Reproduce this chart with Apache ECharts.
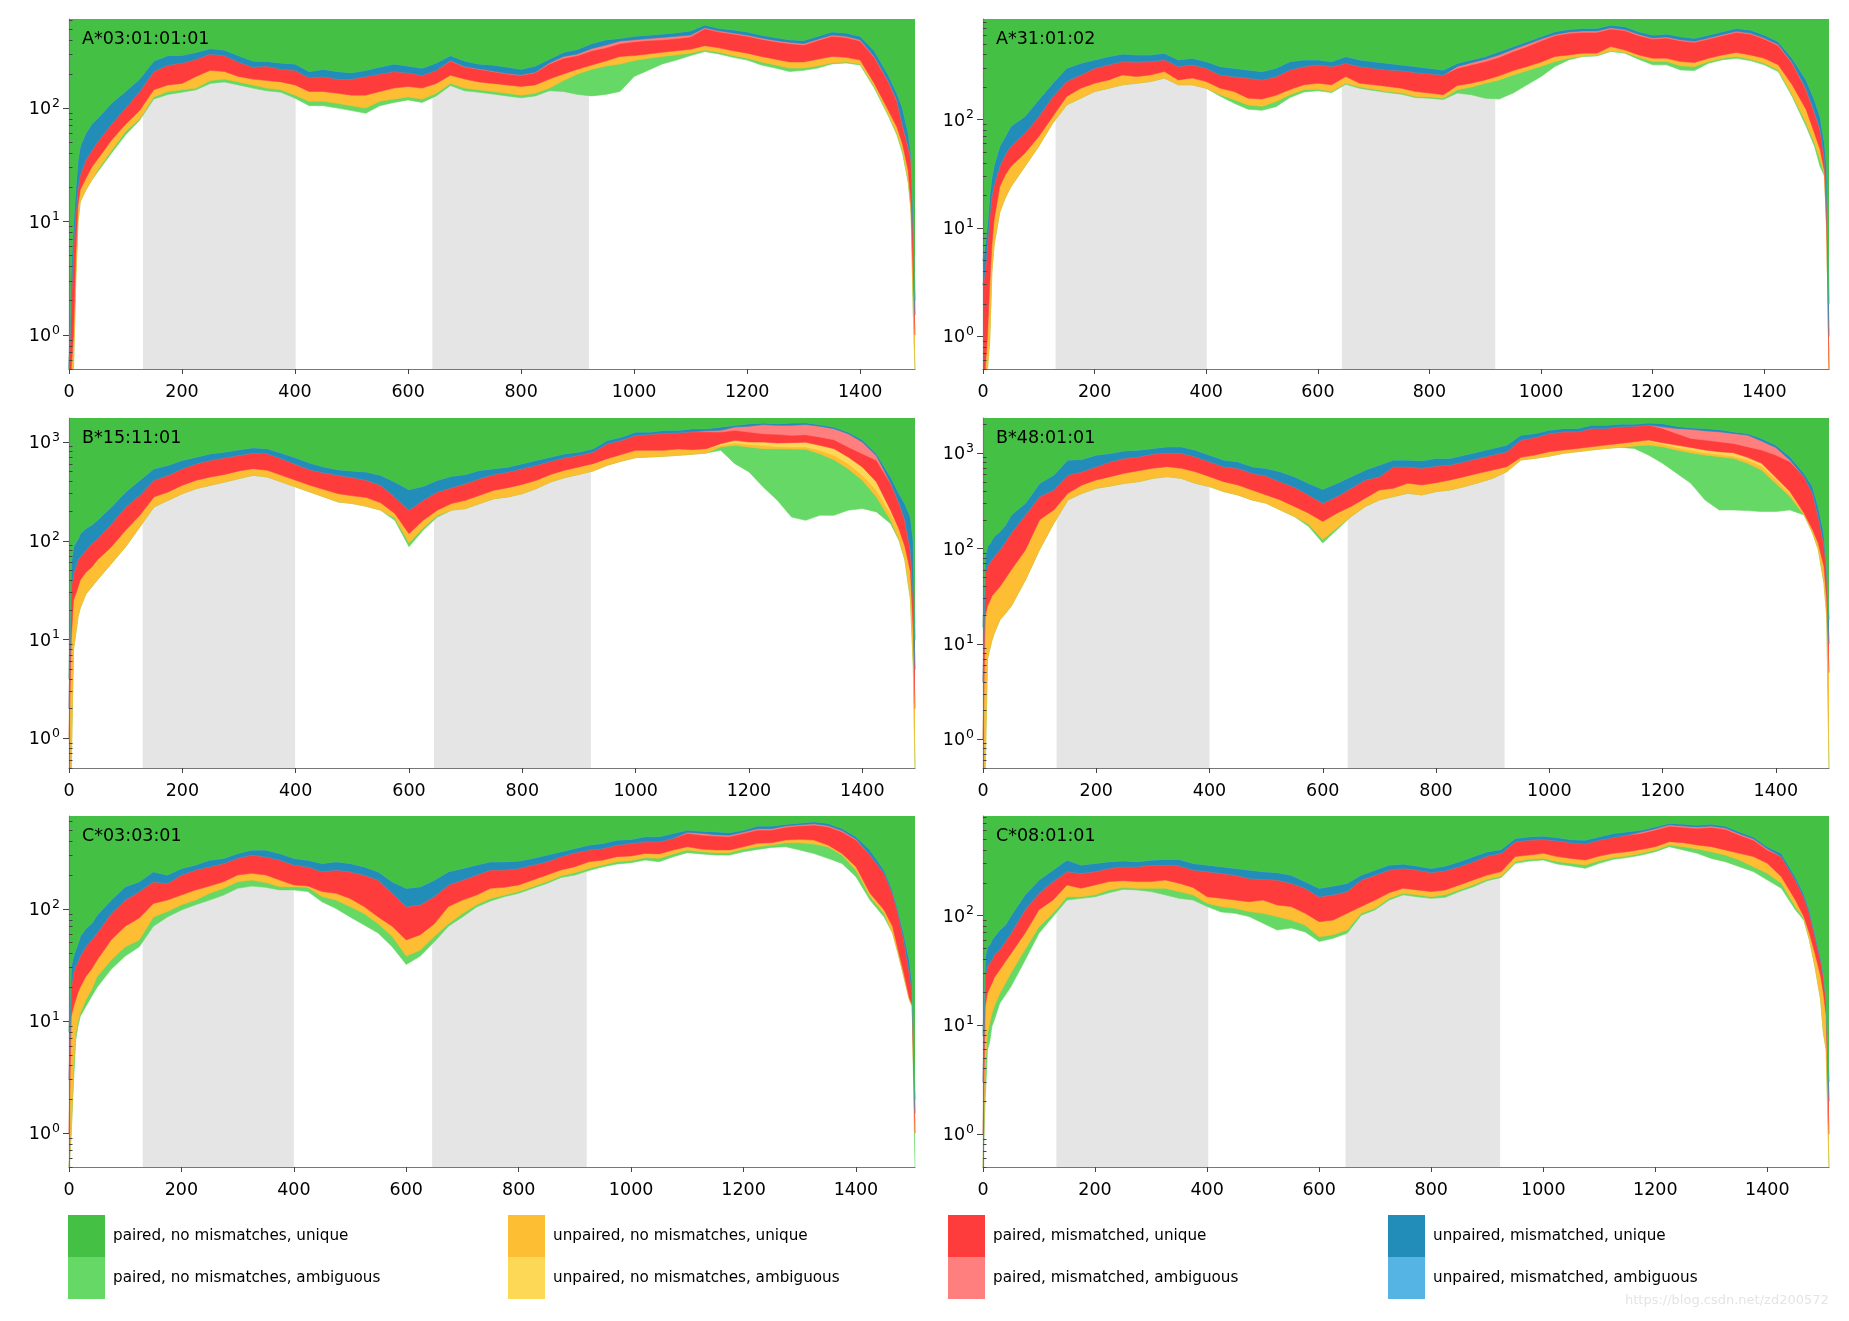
<!DOCTYPE html>
<html><head><meta charset="utf-8">
<script src="https://cdn.jsdelivr.net/npm/echarts@6/dist/echarts.min.js"></script>
<style>html,body{margin:0;padding:0;background:#fff}#c{width:1849px;height:1321px}</style>
</head><body><div id="c"></div>
<script>
const _ = null;
// sampling positions (common to all panels), each panel adds its own tail
const POS = [0,4,8,12,16,20,30,40,50,75,100,125,150,175,200,225,250,275,300,325,350,375,400,425,450,475,500,525,550,575,600,625,650,675,700,725,750,775,800,825,850,875,900,925,950,975,1000,1025,1050,1075,1100,1125,1150,1175,1200,1225,1250,1275,1300,1325,1350,1375,1400,1425,1450];
const X_TICKS = [0,200,400,600,800,1000,1200,1400];
const Y_MAJOR = [1,10,100,1000];
const Y_MINOR = [0.5,0.6,0.7,0.8,0.9,2,3,4,5,6,7,8,9,20,30,40,50,60,70,80,90,200,300,400,500,600,700,800,900,2000];

// Layer boundary arrays (top edge of each layer, reads/bp)
// base = bottom edge of the coloured stack
// ---- A*03:01:01:01
const A03_tail = [1465,1475,1485,1490,1494,1497];
const A03_base = [.5,.5,.5,3,10,15,19,23,27, 40,58,78,120,132,138,145,165,170,160, 150,142,138,122,105,105,100,95,90,105, 112,118,112,128,158,142,138,133,128,123, 128,142,140,132,128,132,140,190,215,245, 265,290,315,300,280,265,240,225,210,215, 225,245,250,240,150,85, 58,40,22,12,1.5,.5];
const A03_g = [_,_,_,_,_,_,_,_,28, 42,62,80,125,140,145,150,175,180,170, 160,150,145,130,115,115,110,105,100,115, 120,125,120,135,165,150,145,140,135,130, 135,150,175,200,220,235,245,262,275,285, 295,305,325,310,290,275,255,240,225,225, 235,250,255,245,155,87, 60,42,23,13,1.6,.5];
const A03_y = [.5,.5,1,5,14,19,24,30,35, 52,72,95,145,160,165,190,215,210,190, 180,175,170,160,140,140,135,130,130,140, 150,155,150,165,195,180,170,165,160,155, 160,180,200,220,240,260,285,290,300,310, 320,330,355,340,320,305,285,270,255,255, 270,285,280,265,165,95, 68,48,28,14,3,1];
const A03_r = [.5,2,6,12,20,26,35,42,50, 72,100,140,210,240,250,270,300,290,255, 230,235,220,215,185,190,180,180,190,200, 210,205,195,215,260,230,220,210,200,195, 205,245,275,290,320,340,370,385,395,400, 410,425,500,470,450,430,405,385,370,360, 395,430,420,390,280,170, 115,70,45,35,7,1.5];
const A03_p = [_,_,_,_,_,_,_,_,_, _,_,_,_,_,_,_,_,_,_, _,_,_,_,_,_,_,_,_,_, _,_,_,_,262,232,222,212,202,197, 207,250,285,300,335,360,390,400,410,420, 430,440,510,480,460,440,415,395,380,370, 405,440,430,400,285,172, 117,71,46,36,7,1.5];
const A03_b = [.5,4,10,20,35,46,60,72,80, 110,140,180,260,290,292,310,335,325,290, 260,258,250,245,210,220,210,205,215,230, 245,235,225,250,290,260,245,240,230,220, 235,270,310,330,370,400,412,430,440,450, 462,480,541,505,490,470,440,420,400,395, 430,470,460,430,320,195, 135,100,60,40,12,2];
const A03_exons = [[131,401],[643,920]];

// ---- A*31:01:02
const A31_tail = [1475,1490,1500,1508,1512,1516];
const A31_base = [.5,.5,.5,.9,4,7,14,19,24, 37,57,93,137,158,182,195,210,217,225, 242,210,210,195,165,142,125,122,132,160, 180,185,178,212,195,186,178,172,160,158, 154,176,170,158,155,176,210,250,310,357, 383,388,426,411,361,321,321,288,284,332, 357,369,351,321,278,164, 87,57,37,30,9,.5];
const A31_g = [_,_,_,_,_,_,_,_,_, _,_,_,_,_,_,_,_,_,_, _,_,_,_,170,153,137,133,147,170, 189,191,182,217,200,191,182,176,164,162, 158,189,200,217,233,259,284,312,344,369, 388,393,434,418,377,344,344,314,310,344, 369,383,361,332,288,170, 93,61,43,31,9,.5];
const A31_y = [.5,.5,1,3,7,12,24,31,37, 49,70,107,164,195,217,233,259,250,259, 278,233,242,225,195,182,158,155,168,190, 210,217,210,250,217,210,203,195,182,176, 170,207,217,233,254,284,310,340,383,396, 411,411,473,441,396,369,369,344,337,369, 396,417,396,369,321,210, 124,75,53,33,10,.5];
const A31_r = [3,4,7,13,20,25,37,48,57, 75,107,164,225,259,299,321,344,340,344, 357,310,321,299,259,250,242,233,250,288, 310,321,310,332,310,299,288,284,273,265, 259,299,321,344,378,426,473,535,597,628, 640,640,688,665,597,556,568,535,518,556, 597,640,618,556,483,332, 189,115,81,43,18,1];
const A31_p = [_,_,_,_,_,_,_,_,_, _,_,_,_,_,_,_,_,_,_, _,_,_,_,_,_,_,_,_,_, _,_,_,_,_,_,_,_,_,_, _,310,336,361,397,446,497,555,613,645, 660,660,705,680,615,568,580,547,530,568, 610,655,630,568,495,338, 192,117,82,43,18,1];
const A31_b = [5,7,11,20,30,38,57,70,87, 107,153,217,299,332,357,383,405,397,397, 411,357,370,344,310,299,288,278,299,344, 357,357,344,383,357,344,332,321,310,299, 288,332,357,383,426,473,526,585,650,683, 698,698,748,723,650,605,618,585,565,605, 650,698,674,605,526,369, 233,153,107,61,37,2];
const A31_exons = [[130,401],[643,918]];

// ---- B*15:11:01
const B15_tail = [1465,1475,1485,1490,1493];
const B15_base = [.5,.5,8,11.5,17,21,29,34,40, 59,87,138,220,257,300,338,365,394,426, 460,443,394,351,312,278,247,238,223,204, 161,87,128,174,204,212,238,267,278,300, 338,394,436,470,510,581,640,694,705,716, 733,750,773,824,604,498,351,257,174,161, 181,181,204,212,196,149, 100,64,25,5.3,.5];
const B15_g = [_,_,_,_,_,_,_,_,_, _,_,_,_,_,_,_,_,_,_, _,_,_,_,_,_,_,_,_,_, 170,95,135,180,_,_,_,_,_,_, _,_,_,_,_,_,_,_,_,_, _,_,_,890,925,890,856,856,850,845, 762,662,537,410,278,161, 102,65,26,_,_];
const B15_y = [1,10,25,29,34,40,48,54,64, 87,128,181,278,312,365,410,443,470,510, 537,517,460,410,365,330,300,285,274,242, 189,118,161,204,238,257,289,325,345,372, 410,470,517,559,604,678,748,824,824,824, 850,837,856,925,977,947,925,900,890,890, 824,733,604,460,325,189, 128,87,47,11.5,2];
const B15_yl = [_,_,_,_,_,_,_,_,_, _,_,_,_,_,_,_,_,_,_, _,_,_,_,_,_,_,_,_,_, _,_,_,_,_,_,_,_,_,_, _,_,_,_,_,_,_,_,_,_, _,_,_,962,1039,1000,1000,977,985,995, 925,856,705,559,394,204, 130,88,48,_,_];
const B15_r = [2,34,47,54,64,69,80,94,104, 149,220,289,410,460,537,604,653,694,733, 773,762,678,595,525,488,460,436,410,365, 278,204,257,312,345,379,426,470,498,537, 581,640,694,733,792,962,1039,1168,1195,1225, 1240,1270,1270,1262,1313,1262,1214,1195,1168,1185, 1123,1054,890,762,653,379, 238,161,80,25,5];
const B15_p = [_,_,_,_,_,_,_,_,_, _,_,_,_,_,_,_,_,_,_, _,_,_,_,_,_,_,_,_,_, _,_,_,_,_,_,_,_,_,_, _,_,_,_,_,_,_,_,_,_, _,_,1300,1313,1419,1447,1500,1475,1475,1505, 1447,1365,1214,1000,724,385, 240,163,81,_,_];
const B15_b = [4,60,87,96,104,118,133,144,161, 220,312,410,537,581,653,705,762,792,837, 876,856,773,694,614,559,525,510,498,460, 394,330,356,410,450,470,517,537,559,604, 653,705,762,792,856,1039,1123,1262,1262,1313, 1313,1365,1365,1419,1475,1531,1560,1531,1560,1570, 1500,1419,1262,1055,762,443, 300,238,174,100,10];
const B15_exons = [[130,399],[644,921]];

// ---- B*48:01:01
const B48_tail = [1465,1475,1485,1490,1494];
const B48_base = [.5,.5,7,8.8,11,13,18,21,25, 47,98,185,325,381,430,455,485,505,547, 570,547,485,448,397,366,325,300,255,217, 171,115,158,217,277,325,352,381,366,397, 413,448,493,547,643,852,887,935,1000,1041, 1084,1128,1155,1128,961,786,618,485,325,255, 255,251,245,245,255,226, 146,98,44,19.5,.5];
const B48_g = [_,_,_,_,_,_,_,_,_, _,_,_,_,_,_,_,_,_,_, _,_,_,_,_,_,_,_,_,_, 180,125,165,_,_,_,_,_,_,_, _,_,_,_,_,_,_,_,_,_, _,_,_,1193,1222,1174,1084,1016,961,923, 887,786,669,485,352,_, _,_,_,_,_];
const B48_y = [1,19.5,25,28,32,34,40,49,60, 97,201,255,381,466,526,570,618,659,697, 725,697,643,570,505,466,413,366,325,277, 236,193,236,277,338,413,430,485,466,493, 526,570,618,669,725,908,961,1041,1084,1128, 1174,1222,1273,1325,1355,1253,1155,1084,1016,976, 938,852,737,534,381,236, 158,114,65,29,5];
const B48_yl = [_,_,_,_,_,_,_,_,_, _,_,_,_,_,_,_,_,_,_, _,_,_,_,_,_,_,_,_,_, _,_,_,_,_,_,_,_,_,_, _,_,_,_,_,_,_,_,_,_, _,_,_,_,1379,1295,1222,1155,1084,1041, 1016,908,786,560,397,_, _,_,_,_,_];
const B48_r = [4,55,65,71,77,83,97,119,146, 226,352,413,593,643,725,818,887,923,984, 1016,1000,923,818,725,697,618,580,505,441, 366,300,352,430,526,570,725,725,697,737, 755,818,887,961,1041,1379,1470,1619,1686,1686, 1827,1827,1900,1930,1979,1827,1619,1436,1379,1325, 1273,1174,1084,961,818,570, 381,217,114,55,10];
const B48_p = [_,_,_,_,_,_,_,_,_, _,_,_,_,_,_,_,_,_,_, _,_,_,_,_,_,_,_,_,_, _,_,_,_,_,_,_,_,_,_, _,_,_,_,_,_,_,_,_,_, _,_,_,_,_,1900,1827,1790,1727,1686, 1619,1556,1350,1155,852,_, _,_,_,_,_];
const B48_b = [15,83,106,112,124,134,151,178,226, 300,485,593,852,866,961,1000,1066,1084,1128, 1174,1174,1084,961,852,818,725,697,643,570, 485,420,485,570,669,755,852,852,838,887, 887,961,1041,1128,1222,1556,1619,1754,1827,1827, 1979,1979,2030,2030,2090,2061,1930,1860,1827,1780, 1686,1619,1436,1222,923,618, 448,277,146,65,18];
const B48_exons = [[130,400],[644,921]];

// ---- C*03:03:01
const C03_tail = [1465,1475,1485,1495,1500,1505];
const C03_base = [.5,1,2.8,6.8,9,11,13.5,16.5,20, 29,38,46,70,85,98,109,120,133,153, 160,156,148,148,143,116,101,85,72,61, 46,32,38,51,70,85,104,118,129,138, 153,169,191,201,220,238,252,259,273,264, 293,318,310,303,303,324,340,354,359,336, 313,283,255,194,120,85, 61,40,25,15.5,13.4,.5];
const C03_g = [.5,1,3.9,7.8,10,11.8,15.5,19,25, 35,46,53,85,95,109,120,138,153,175, 181,172,158,158,156,129,120,105,91,74, 57,38,43,57,74,91,109,124,133,143, 158,175,197,211,230,247,264,270,287,283, 310,336,324,318,318,342,359,372,390,390, 380,359,303,223,129,91, _,_,_,_,_,1];
const C03_y = [1,11,13.4,15.5,18,20,25,29,35, 53,70,83,112,120,133,148,160,175,201, 208,201,181,164,160,143,138,124,105,85, 70,53,59,74,105,120,133,153,156,164, 181,201,223,238,264,273,293,297,313,310, 336,359,342,336,336,359,385,390,412,418, 412,372,313,238,138,98, 70,43,27,16,14,1];
const C03_r = [3,20,27,31,34,38,46,53,61, 91,120,143,175,169,201,223,238,255,283, 303,293,273,247,238,215,223,215,201,181, 138,105,109,129,164,181,201,223,223,230, 247,264,293,318,336,347,372,385,398,398, 427,473,457,448,442,473,506,506,537,552, 561,542,489,412,303,208, 138,91,53,27,18,1.5];
const C03_p = [_,_,_,_,_,_,_,_,_, _,_,_,_,_,_,_,_,_,_, _,_,_,_,_,_,_,_,_,_, _,_,_,_,_,_,_,_,_,_, _,_,_,_,_,_,_,_,_,_, _,484,473,460,455,485,520,520,550,565, 575,555,500,420,_,_, _,_,_,_,_,_];
const C03_b = [8,31,38,43,49,57,67,74,88, 120,158,175,215,201,230,247,273,283,313, 336,336,313,283,273,255,264,255,238,215, 175,153,158,181,215,230,247,264,264,268, 283,303,324,347,372,385,412,418,442,442, 473,506,495,489,480,506,550,550,570,585, 601,581,524,442,336,223, 148,98,61,35,22,2];
const C03_exons = [[131,400],[646,921]];

// ---- C*08:01:01
const C08_tail = [1465,1475,1485,1495,1500,1505,1510];
const C08_base = [.5,2.1,5.9,7,9.7,11,15.8,18.8,22.4, 39,69,98,139,144,149,162,174,172,166, 155,144,139,121,108,105,98,85,74,77, 71,58,62,69,101,113,139,155,149,144, 147,166,184,209,224,301,316,323,297,285, 271,301,328,340,359,385,428,399,372,334, 312,281,253,212,178,113, 91,60,34,17,8.4,5.9,.5];
const C08_g = [.5,4.2,8.4,10.4,12.8,14.7,19.5,24,30, 49,79,105,149,149,155,172,181,178,178, 178,166,155,130,121,117,109,105,98,91, 82,64,67,74,105,117,144,160,155,149, 155,172,191,215,230,312,328,334,312,301, 291,318,340,351,372,399,443,428,408,385, 359,323,281,244,198,121, 95,_,_,_,_,_,_];
const C08_y = [1,14.7,19.5,21.7,24,27,32,38,45, 69,113,139,191,178,191,205,209,205,205, 212,198,181,149,144,139,134,139,125,121, 105,88,91,105,121,139,162,178,172,166, 172,191,212,235,253,347,359,372,347,334, 323,351,372,385,404,428,475,466,443,428, 399,372,347,301,227,139, 98,69,45,28,19.5,12,1];
const C08_r = [3,28,34,37,39,44,49,58,69, 113,160,205,253,244,253,271,281,281,291, 291,286,262,253,244,235,219,215,212,198, 178,149,155,166,212,235,262,271,262,248, 258,281,312,351,372,475,492,498,486,466, 453,492,520,547,567,608,660,644,630,644, 617,547,492,399,347,212, 149,105,64,39,28,17,2];
const C08_p = [_,_,_,_,_,_,_,_,_, _,_,_,_,_,_,_,_,_,_, _,_,_,_,_,_,_,_,_,_, _,_,_,_,_,_,_,_,_,_, _,_,_,_,_,_,_,_,_,_, _,_,_,_,583,625,678,662,648,662, 635,562,505,410,_,_, _,_,_,_,_,_,_];
const C08_b = [8,42,52,54,60,64,74,82,100, 155,212,262,323,291,301,312,318,312,323, 328,328,301,291,281,271,262,253,248,235, 205,178,187,198,235,262,291,297,285,271, 285,312,347,385,404,510,528,535,520,498, 492,528,567,587,608,652,702,690,675,690, 660,587,528,428,372,227, 160,113,69,42,30,17,3];
const C08_exons = [[131,402],[647,923]];

const FONT = 'DejaVu Sans';
const LAYERS = [
  {name:'paired, no mismatches, ambiguous',   color:'#66D866'},
  {name:'unpaired, no mismatches, unique',    color:'#FDBE33'},
  {name:'unpaired, no mismatches, ambiguous', color:'#FDD857'},
  {name:'paired, mismatched, unique',         color:'#FF3C3C'},
  {name:'paired, mismatched, ambiguous',      color:'#FF7F7F'},
  {name:'unpaired, mismatched, unique',       color:'#238DB9'},
  {name:'unpaired, mismatched, ambiguous',    color:'#55B4E3'},
  {name:'paired, no mismatches, unique',      color:'#44C144'}
];

const PANELS = [
  {title:'A*03:01:01:01', tail:A03_tail, arr:[A03_base,A03_g,A03_y,null,A03_r,A03_p,A03_b,null], xmax:1497, ymax:610,  exons:A03_exons, left:69,  top:19,  height:350},
  {title:'A*31:01:02',    tail:A31_tail, arr:[A31_base,A31_g,A31_y,null,A31_r,A31_p,A31_b,null], xmax:1516, ymax:850,  exons:A31_exons, left:983, top:19,  height:350},
  {title:'B*15:11:01',    tail:B15_tail, arr:[B15_base,B15_g,B15_y,B15_yl,B15_r,B15_p,B15_b,null], xmax:1493, ymax:1750, exons:B15_exons, left:69,  top:418, height:350},
  {title:'B*48:01:01',    tail:B48_tail, arr:[B48_base,B48_g,B48_y,B48_yl,B48_r,B48_p,B48_b,null], xmax:1494, ymax:2350, exons:B48_exons, left:983, top:418, height:350},
  {title:'C*03:03:01',    tail:C03_tail, arr:[C03_base,C03_g,C03_y,null,C03_r,C03_p,C03_b,null], xmax:1505, ymax:675,  exons:C03_exons, left:69,  top:816, height:351},
  {title:'C*08:01:01',    tail:C08_tail, arr:[C08_base,C08_g,C08_y,null,C08_r,C08_p,C08_b,null], xmax:1510, ymax:817,  exons:C08_exons, left:983, top:816, height:351}
];

const grids = [], xAxes = [], yAxes = [], series = [], titles = [];
const yFmt = v => '{b|10}{s|' + Math.round(Math.log(v) / Math.LN10) + '}';

PANELS.forEach((P, k) => {
  const pos = POS.concat(P.tail);
  const n = pos.length;
  // boundaries: each layer's lower edge
  const bounds = [];
  P.arr.forEach((a, j) => {
    const row = [];
    for (let i = 0; i < n; i++) {
      let v = a ? a[i] : null;
      if (j === 0) row.push(v);
      else {
        const prev = bounds[j - 1][i];
        row.push(v == null ? prev : Math.max(v, prev));
      }
    }
    bounds.push(row);
  });
  grids.push({left:P.left, top:P.top, width:846, height:P.height, containLabel:false, show:false});
  xAxes.push({
    type:'value', gridIndex:k, min:0, max:P.xmax, z:10,
    axisLine:{onZero:false, lineStyle:{color:'#777', width:1.2}},
    axisTick:{customValues:X_TICKS, length:5, lineStyle:{color:'#444', width:1}},
    axisLabel:{customValues:X_TICKS, formatter:v => String(Math.round(v)), margin:14, fontSize:17.5, fontFamily:FONT, color:'#000'},
    splitLine:{show:false}
  });
  yAxes.push({
    type:'log', logBase:10, gridIndex:k, min:0.5, max:P.ymax, z:10,
    axisLine:{show:true, onZero:false, lineStyle:{color:'#777', width:1.2}},
    axisTick:{customValues:Y_MAJOR, length:6, lineStyle:{color:'#444', width:1}},
    axisLabel:{customValues:Y_MAJOR, formatter:yFmt, margin:9, color:'#000',
      rich:{b:{fontSize:17.5, fontFamily:FONT, color:'#000', padding:[3,0,0,0]},
            s:{fontSize:12.5, fontFamily:FONT, color:'#000', padding:[0,0,9,1]}}},
    splitLine:{show:false}, minorTick:{show:false}
  });
  yAxes.push({
    type:'log', logBase:10, gridIndex:k, min:0.5, max:P.ymax, z:10,
    axisLine:{show:false},
    axisTick:{customValues:Y_MINOR, length:3.5, lineStyle:{color:'#444', width:1}},
    axisLabel:{show:false}, splitLine:{show:false}
  });
  // exon shading
  series.push({
    type:'line', xAxisIndex:k, yAxisIndex:2*k, data:[[0,0.5]], symbol:'none', silent:true, z:1,
    lineStyle:{width:0, opacity:0},
    markArea:{silent:true, itemStyle:{color:'#E5E5E5', opacity:1},
      data:P.exons.map(e => [{xAxis:e[0]}, {xAxis:e[1]}])}
  });
  LAYERS.forEach((L, j) => {
    series.push({
      type:'line', name:L.name, xAxisIndex:k, yAxisIndex:2*k, z:2 + j, silent:true,
      data:pos.map((x, i) => [x, bounds[j][i]]),
      symbol:'none', showSymbol:false, color:L.color,
      itemStyle:{color:L.color},
      lineStyle:{color:L.color, width:0.6},
      areaStyle:{color:L.color, opacity:1, origin:'end'}
    });
  });
  titles.push({text:P.title, left:P.left + 13, top:P.top + 11, padding:0, z:20,
    textStyle:{fontSize:17.5, fontWeight:'normal', fontFamily:FONT, color:'#000'}});
});

const legendBase = {orient:'vertical', top:1215, itemGap:0, itemWidth:37, itemHeight:42, icon:'rect',
  selectedMode:false, padding:0, itemStyle:{borderWidth:0},
  textStyle:{fontSize:15.2, fontFamily:FONT, color:'#000', padding:[0,0,0,3]}};
const legends = [
  Object.assign({left:68,   data:['paired, no mismatches, unique','paired, no mismatches, ambiguous']}, legendBase),
  Object.assign({left:508,  data:['unpaired, no mismatches, unique','unpaired, no mismatches, ambiguous']}, legendBase),
  Object.assign({left:948,  data:['paired, mismatched, unique','paired, mismatched, ambiguous']}, legendBase),
  Object.assign({left:1388, data:['unpaired, mismatched, unique','unpaired, mismatched, ambiguous']}, legendBase)
];

const chart = echarts.init(document.getElementById('c'), null, {renderer:'canvas'});
chart.setOption({
  backgroundColor:'#fff', animation:false,
  title:titles, grid:grids, xAxis:xAxes, yAxis:yAxes, series:series, legend:legends,
  graphic:[{type:'text', left:1625, top:1294, silent:true,
    style:{text:'https://blog.csdn.net/zd200572', fill:'#e4e4e4', font:'13px "DejaVu Sans"'}}]
});
</script></body></html>
